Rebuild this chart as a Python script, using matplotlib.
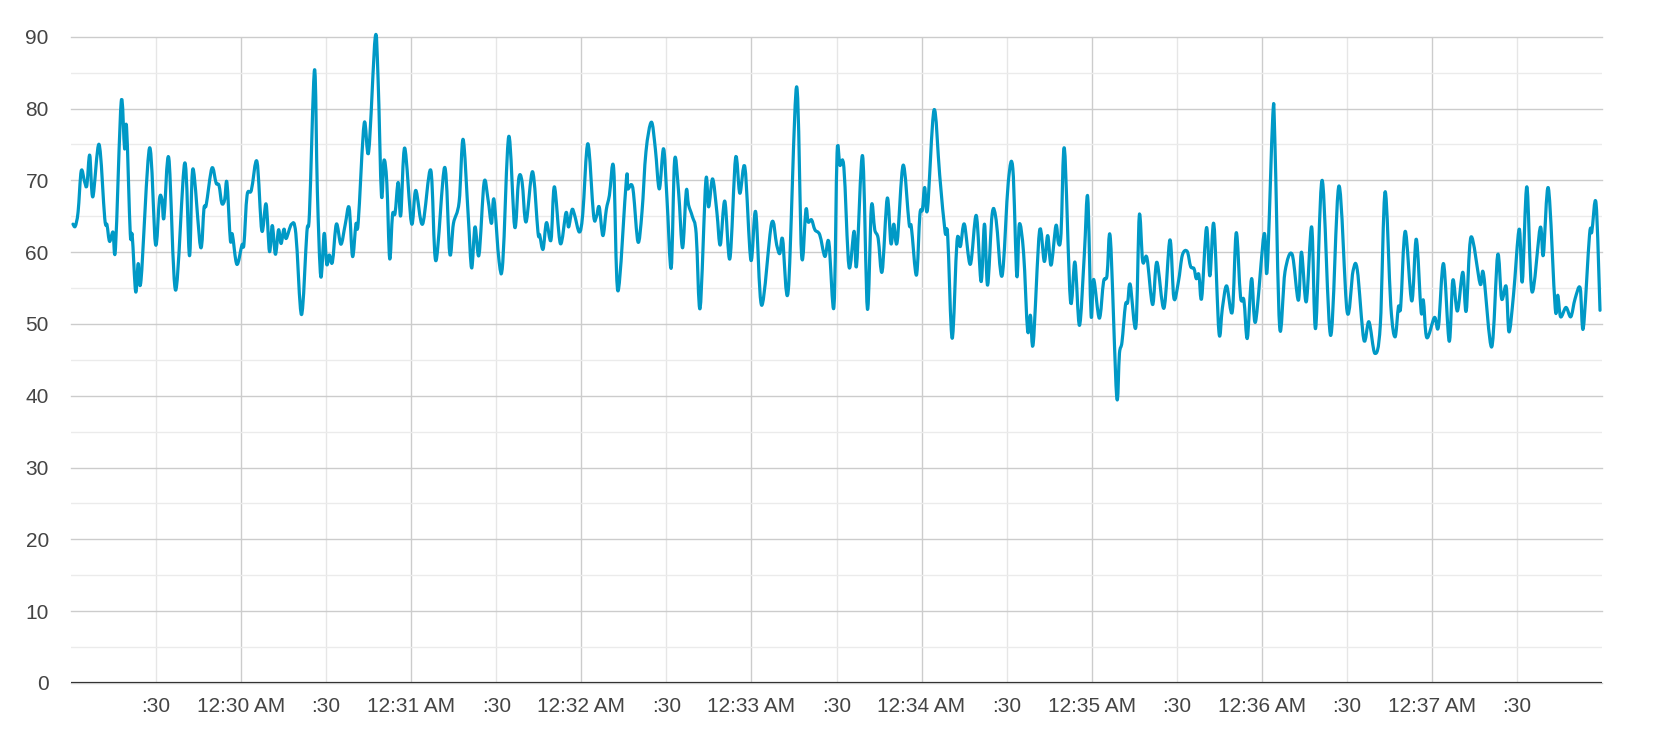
import numpy as np
import pandas as pd
import matplotlib
matplotlib.use("Agg")
import matplotlib.pyplot as plt
import matplotlib.dates as mdates
from matplotlib.path import Path
from matplotlib.patches import PathPatch
from matplotlib.ticker import FuncFormatter, MultipleLocator, FixedLocator

plt.rcParams['font.family'] = ['Liberation Sans', 'DejaVu Sans']

# seconds after 12:29:00 and the reading at that moment
secs = [0.7, 1.5, 2.5, 3.6, 4.8, 5.6, 6.6, 7.7, 9.9, 11.9, 12.7, 13.6, 14.8, 15.7, 17.7, 18.9, 19.6,
        20.9, 21.6, 22.8, 23.7, 24.7, 27.7, 29.8, 31.2, 32.1, 32.8, 34.5, 36.9, 40.1, 41.8, 43.0,
        45.7, 46.9, 47.7, 49.7, 51.2, 52.2, 53.2, 54.2, 55.0, 56.2, 56.9, 58.5, 60.3, 61.0, 62.1,
        63.6, 65.6, 67.3, 68.8, 70.0, 71.0, 72.1, 73.2, 74.1, 75.1, 75.9,
        77.8, 79.3, 81.3, 83.2, 84.1, 85.9, 86.9, 88.1, 89.3, 90.2, 91.1, 92.2, 93.6, 95.2, 96.7,
        98.1, 99.3, 100.5, 101.3, 103.4, 105.0, 107.3, 108.3, 109.5, 110.4, 111.4, 112.4, 113.4,
        114.3, 115.4, 116.3, 117.7, 120.1, 121.6, 124.0, 126.9, 128.7, 131.8, 133.6, 134.9, 136.9,
        138.3, 140.1, 141.3, 142.5, 143.9, 145.7, 147.1, 148.3, 149.2, 151.0, 152.3,
        154.4, 156.5, 157.9, 159.1, 160.5, 162.8, 164.7, 165.3, 166.5, 167.7, 169.3, 170.5, 172.6,
        174.6, 175.5, 176.7, 177.6, 179.3, 180.5, 182.3, 184.3, 185.3, 186.3, 187.6, 188.8, 189.9,
        191.4, 192.9, 195.9, 196.4, 197.6, 198.4, 200.0, 201.4, 202.8, 204.7, 206.1, 207.5, 209.0,
        210.2, 211.7, 212.9, 214.3, 215.7, 217.0, 217.8, 219.2, 220.5, 221.9, 223.9, 224.9, 226.3,
        227.8, 229.0,
        230.6, 232.4, 234.4, 235.9, 237.7, 239.8, 241.5, 243.6, 247.1, 248.9, 250.0, 251.0, 253.0,
        255.9, 257.7, 259.2, 260.0, 261.2, 262.4, 264.1, 265.9, 267.3, 269.1, 270.2, 271.2, 272.6,
        274.4, 276.2, 277.1, 279.2, 280.9, 282.3, 283.5, 284.7, 286.1, 287.9, 289.2, 290.2, 291.4,
        293.5, 295.6, 296.4, 298.2, 299.4, 300.3, 301.1, 302.1, 304.4, 306.4,
        308.3, 309.2, 310.8, 312.5, 313.7, 315.1, 317.2, 319.3, 321.0, 322.2, 323.3, 324.9, 326.3,
        328.4, 330.6, 332.2, 333.6, 334.5, 336.0, 337.4, 338.4, 339.4, 341.6, 343.3, 344.5, 345.7,
        347.4, 348.3, 349.2, 350.4, 352.5, 354.1, 355.7, 357.4, 358.6, 359.8, 360.7, 362.7, 364.2,
        365.4, 366.6, 368.8, 369.8, 370.7, 371.9, 372.7, 373.6, 375.6, 376.8, 378.0, 379.5, 381.5,
        383.0,
        385.5, 387.6, 389.0, 390.6, 392.0, 393.7, 394.9, 396.1, 396.9, 397.8, 398.8, 400.5, 401.7,
        403.1, 404.9, 406.1, 407.6, 409.6, 411.0, 412.5, 413.7, 414.9, 416.4, 417.8, 420.8, 421.9,
        423.9, 424.6, 426.3, 428.2, 430.7, 432.9, 434.0, 435.7, 437.6, 439.0, 441.3, 444.3, 447.2,
        450.1, 452.2, 453.7, 456.0, 457.8, 459.9,
        461.8, 463.5, 465.5, 467.0, 468.2, 469.0, 470.6, 472.9, 474.5, 476.2, 477.0, 478.2, 480.9,
        482.3, 484.1, 486.1, 487.4, 489.0, 490.9, 492.1, 493.8, 497.0, 498.2, 501.1, 503.2, 504.6,
        506.2, 507.2, 508.8, 510.8, 511.9, 513.5, 515.3, 518.2, 519.3, 521.1, 523.5, 524.4, 525.4,
        527.3, 529.0, 530.5, 532.3, 533.4, 535.6, 536.4, 537.9, 539.3]

vals = [63.9, 63.6, 65.6, 71.3, 69.8, 69.3, 73.5, 67.7, 75.0, 64.7, 63.8, 61.5, 62.8, 60.6, 80.9, 74.4, 77.4,
        62.6, 62.3, 54.5, 58.4, 56.1, 74.5, 61.1, 67.4, 67.3, 64.8, 73.1, 54.7, 72.4, 59.5, 71.6,
        60.7, 66.1, 66.6, 71.7, 69.6, 69.3, 66.8, 67.3, 69.7, 61.7, 62.5, 58.3, 61.0, 61.1, 67.9,
        68.6, 72.6, 63.0, 66.7, 60.1, 63.7, 59.7, 63.1, 61.2, 63.2, 61.9,
        63.9, 62.6, 51.3, 62.8, 65.4, 85.4, 68.4, 56.6, 62.6, 58.3, 59.6, 58.6, 63.9, 61.1, 63.8,
        66.2, 59.4, 63.9, 64.1, 77.9, 74.0, 89.9, 84.2, 67.9, 72.8, 69.6, 59.1, 65.2,
        65.4, 69.7, 65.1, 74.5, 64.0, 68.6, 63.9, 71.4, 58.8, 71.8, 59.8, 64.0, 67.0,
        75.7, 65.1, 57.8, 63.5, 59.6, 69.7, 67.3, 64.0, 67.3, 58.7, 58.6,
        76.1, 63.5, 70.2, 69.8, 64.2, 71.2, 62.8, 62.4, 60.4, 64.1, 61.7, 69.1, 61.2,
        65.5, 63.5, 65.9, 65.2, 62.8, 65.3, 75.1, 65.2, 64.9, 66.3, 62.3, 65.9, 67.9,
        71.7, 54.6, 70.2, 68.8, 69.4, 68.2, 61.4, 65.6, 74.0, 78.1, 74.4, 68.8, 74.4,
        67.5, 57.8, 72.8, 68.4, 60.6, 68.5, 66.6, 64.9, 62.6, 52.2, 69.9, 66.3, 70.2,
        65.6, 61.0,
        67.1, 59.1, 73.1, 68.2, 71.8, 58.9, 65.6, 52.6, 64.0, 61.0, 59.8, 61.8, 54.7,
        83.0, 59.5, 65.9, 64.2, 64.5, 63.1, 62.4, 59.4, 61.4, 52.4, 73.8, 72.1, 71.8,
        58.0, 62.9, 58.2, 73.4, 52.1, 66.3, 63.1, 61.9, 57.3, 67.5, 61.2, 63.9, 61.4,
        72.1, 64.0, 63.5, 56.8, 65.2, 65.9, 69.0, 66.0, 79.8, 70.7,
        62.8, 62.4, 48.0, 61.5, 60.8, 63.9, 58.3, 65.1, 55.9, 63.9, 55.4, 65.3, 64.5,
        56.7, 69.8, 71.6, 56.7, 63.9, 59.8, 49.1, 51.2, 47.3, 62.9, 58.7, 62.3, 58.2,
        63.7, 61.2, 62.6, 74.4, 53.3, 58.6, 49.8, 59.6, 67.7, 51.2, 56.2, 50.8, 55.9,
        56.7, 61.9, 40.0, 45.9, 47.5, 52.6, 53.0, 55.5, 49.6, 65.1, 58.7, 59.2, 52.7,
        58.6,
        52.2, 61.7, 53.6, 55.9, 59.6, 60.1, 58.0, 57.7, 56.3, 56.9, 53.6, 63.4, 56.7,
        63.9, 48.8, 52.2, 55.3, 51.7, 62.7, 53.8, 53.3, 48.0, 56.3, 50.3, 62.5, 57.5,
        79.1, 75.8, 49.6, 57.3, 59.7, 53.3, 60.0, 53.1, 63.5, 49.4, 70.0, 48.4, 69.2,
        51.7, 57.4, 57.5, 47.8, 50.3, 45.9,
        49.8, 68.4, 52.6, 48.2, 52.4, 52.4, 62.9, 53.2, 61.8, 51.7, 53.3, 48.1, 50.9,
        49.6, 58.4, 47.6, 56.1, 51.8, 57.2, 51.8, 62.1, 55.6, 57.0, 46.8, 59.6, 53.5,
        55.2, 48.9, 54.1, 63.2, 55.9, 69.1, 54.5, 63.4, 59.6, 68.9, 52.2, 54.0, 51.0,
        52.3, 51.0, 53.5, 55.0, 49.4, 62.4, 62.8, 66.8, 51.9]

start = pd.Timestamp("2024-01-01 00:29:00")
end = pd.Timestamp("2024-01-01 00:38:00")
times = start + pd.to_timedelta(secs, unit="s")


def smooth_path(x, y, k=1/6):
    # bezier path through every point (like a 'function' curve type)
    x, y = np.asarray(x, float), np.asarray(y, float)
    px = np.r_[x[0], x, x[-1]]
    py = np.r_[y[0], y, y[-1]]
    verts = [(x[0], y[0])]
    codes = [Path.MOVETO]
    for i in range(1, len(x)):
        c1 = (px[i] + (px[i + 1] - px[i - 1]) * k, py[i] + (py[i + 1] - py[i - 1]) * k)
        c2 = (px[i + 1] - (px[i + 2] - px[i]) * k, py[i + 1] - (py[i + 2] - py[i]) * k)
        verts += [c1, c2, (x[i], y[i])]
        codes += [Path.CURVE4] * 3
    return Path(verts, codes)


fig = plt.figure(figsize=(16.58, 7.35), dpi=100)
ax = fig.add_axes([71 / 1658, 52 / 735, 1531 / 1658, 646.3 / 735])

line = PathPatch(smooth_path(mdates.date2num(times), vals), facecolor="none",
                 edgecolor="#0099C6", lw=2.3, joinstyle="round", capstyle="round",
                 clip_on=False, zorder=3)
ax.add_patch(line)

ax.set_xlim(start, end)
ax.set_ylim(0, 90)

# x ticks: full minutes (darker grid) and half minutes (lighter grid)
minutes = pd.date_range(start + pd.Timedelta(seconds=60), periods=8, freq="60s")
halves = pd.date_range(start + pd.Timedelta(seconds=30), periods=9, freq="60s")
ax.xaxis.set_major_locator(FixedLocator(mdates.date2num(minutes)))
ax.xaxis.set_minor_locator(FixedLocator(mdates.date2num(halves)))
ax.xaxis.set_major_formatter(FuncFormatter(
    lambda x, p: mdates.num2date(x).strftime("%I:%M %p").lstrip("0")))
ax.xaxis.set_minor_formatter(FuncFormatter(lambda x, p: ":30"))

ax.yaxis.set_major_locator(MultipleLocator(10))
ax.yaxis.set_minor_locator(MultipleLocator(5))

ax.grid(which="major", axis="both", color="#cccccc", lw=1.0)
ax.grid(which="minor", axis="y", color="#ebebeb", lw=1.0)
ax.grid(which="minor", axis="x", color="#e6e6e6", lw=1.0)
for gl in ax.get_ygridlines():
    gl.set_clip_on(False)
ax.set_axisbelow(True)
ax.axhline(0, color="#333333", lw=1.6, zorder=2)

for s in ax.spines.values():
    s.set_visible(False)

ax.tick_params(axis="both", which="both", length=0, labelsize=15, labelcolor="#444444")
ax.tick_params(axis="x", which="both", pad=10)
ax.tick_params(axis="y", which="both", pad=16)
ax.tick_params(axis="y", which="minor", labelleft=False)

fig.savefig("out.png", dpi=100)
